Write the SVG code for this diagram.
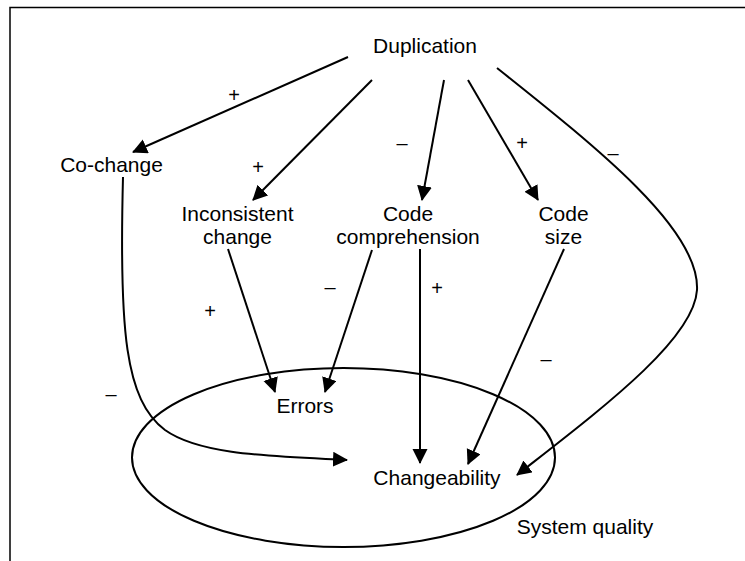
<svg xmlns="http://www.w3.org/2000/svg" width="745" height="561" viewBox="0 0 745 561">
<defs>
<style>
text{font-family:"Liberation Sans",Arial,sans-serif;font-size:21px;fill:#000;text-anchor:middle}
.sign{font-size:20px}
.edge{fill:none;stroke:#000;stroke-width:2}
.frame{fill:none;stroke:#000;stroke-width:1.5}
</style>
<marker id="ah" markerUnits="userSpaceOnUse" markerWidth="16" markerHeight="16" refX="14" refY="7.5" orient="auto">
<path d="M0,0 L15,7.5 L0,15 z" fill="#000"/>
</marker>
</defs>
<rect width="745" height="561" fill="#fff"/>
<path class="frame" d="M10,561 L10,7.5 L745,7.5"/>
<g id="system-quality">
<ellipse cx="343.5" cy="457.5" rx="211.5" ry="89.5" fill="none" stroke="#000" stroke-width="2"/>
<text x="585" y="534">System quality</text>
</g>
<g id="connectors">
<path class="edge" marker-end="url(#ah)" d="M348,57 L133,152"/>
<path class="edge" marker-end="url(#ah)" d="M372,80 L253,200"/>
<path class="edge" marker-end="url(#ah)" d="M444,80 L422,200"/>
<path class="edge" marker-end="url(#ah)" d="M468,80 L538,200"/>
<path class="edge" marker-end="url(#ah)" d="M497,68 C600,150 700,230 697,290 C694,340 600,410 517,475"/>
<path class="edge" marker-end="url(#ah)" d="M123,177 C119,330 125,400 165,430 C200,455 270,456 347,460"/>
<path class="edge" marker-end="url(#ah)" d="M228,249 L275,392"/>
<path class="edge" marker-end="url(#ah)" d="M372,250 L325,392"/>
<path class="edge" marker-end="url(#ah)" d="M420,249 L420,463"/>
<path class="edge" marker-end="url(#ah)" d="M564,249 L468,464"/>
</g>
<g id="signs">
<text class="sign" x="234" y="102">+</text>
<text class="sign" x="258" y="174">+</text>
<text class="sign" x="402" y="150">–</text>
<text class="sign" x="522" y="150">+</text>
<text class="sign" x="613" y="160">–</text>
<text class="sign" x="111" y="401">–</text>
<text class="sign" x="210" y="318">+</text>
<text class="sign" x="330" y="294">–</text>
<text class="sign" x="437" y="295">+</text>
<text class="sign" x="546" y="366">–</text>
</g>
<g id="duplication"><text x="425" y="53">Duplication</text></g>
<g id="co-change"><text x="111.5" y="172">Co-change</text></g>
<g id="inconsistent-change"><text x="237.5" y="221">Inconsistent</text><text x="237.5" y="244">change</text></g>
<g id="code-comprehension"><text x="408" y="221">Code</text><text x="408" y="244">comprehension</text></g>
<g id="code-size"><text x="563.5" y="221">Code</text><text x="563.5" y="244">size</text></g>
<g id="errors"><text x="305" y="413">Errors</text></g>
<g id="changeability"><text x="437" y="485">Changeability</text></g>
</svg>
